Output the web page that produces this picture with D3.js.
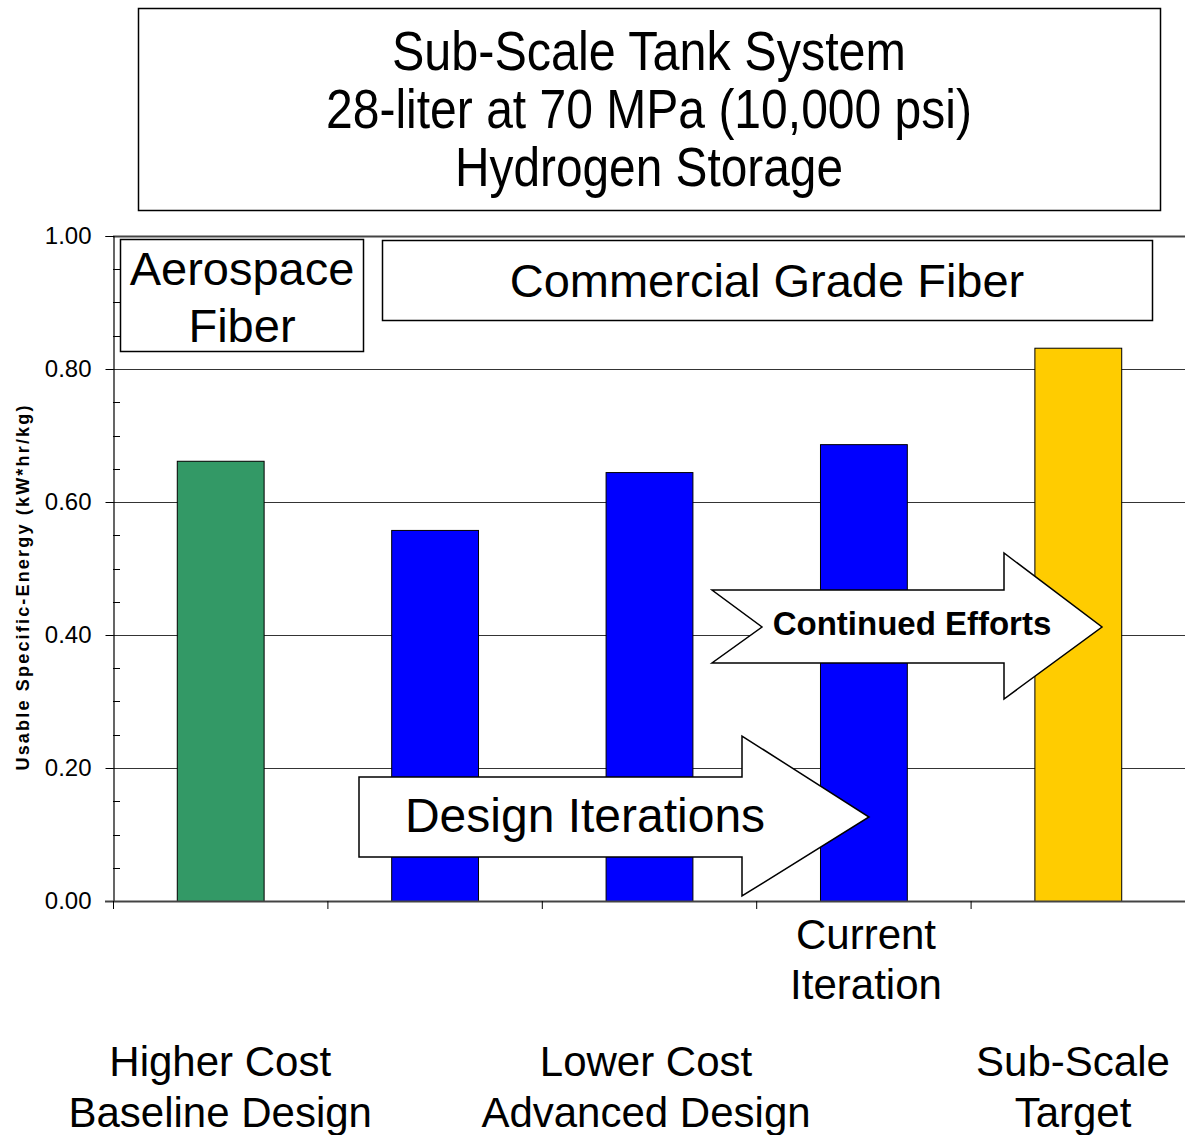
<!DOCTYPE html>
<html><head><meta charset="utf-8">
<script src="https://cdn.jsdelivr.net/npm/d3@7"></script>
<style>body{margin:0;background:#fff}svg{display:block}</style>
</head><body>
<script>
const categories = ["Higher Cost Baseline", "Commercial 1", "Commercial 2", "Current Iteration", "Sub-Scale Target"];
const values = [0.662, 0.558, 0.645, 0.687, 0.832];
const barColors = ["#339966", "#0000FF", "#0000FF", "#0000FF", "#FFCC00"];
const yTicks = [0, 0.2, 0.4, 0.6, 0.8, 1.0];
const titleLines = ["Sub-Scale Tank System", "28-liter at 70 MPa (10,000 psi)", "Hydrogen Storage"];
const yLabel = "Usable Specific-Energy (kW*hr/kg)";

const W = 1185, H = 1135;
const svg = d3.select("body").append("svg").attr("width", W).attr("height", H);
const font = "'Liberation Sans', Arial, sans-serif";

const x0 = 113, x1 = 1185, yTop = 236, yBot = 901;
const x = d3.scaleBand().domain(categories).range([x0, x1]).padding(0);
const y = d3.scaleLinear().domain([0, 1]).range([yBot, yTop]);
const bw = x.bandwidth() * 0.405;

// title box
svg.append("rect").attr("x", 138.5).attr("y", 8.5).attr("width", 1022).attr("height", 202)
  .attr("fill", "#fff").attr("stroke", "#000").attr("stroke-width", 1.5);
const titleWidths = [514, 646, 388];
titleLines.forEach((t, i) => {
  svg.append("text").attr("x", 649).attr("y", 70 + i * 58).attr("text-anchor", "middle")
    .attr("font-family", font).attr("font-size", 55).attr("fill", "#000")
    .attr("textLength", titleWidths[i]).attr("lengthAdjust", "spacingAndGlyphs").text(t);
});

// gridlines
svg.append("g").selectAll("line").data(yTicks.filter(d => d > 0)).join("line")
  .attr("x1", x0).attr("x2", x1).attr("y1", d => Math.round(y(d)) + 0.5).attr("y2", d => Math.round(y(d)) + 0.5)
  .attr("stroke", d => d === 1 ? "#444" : "#000").attr("stroke-width", d => d === 1 ? 2 : 0.8);

// y axis
const yAxis = d3.axisLeft(y).tickValues(yTicks).tickFormat(d3.format(".2f")).tickSize(8).tickPadding(14);
const ga = svg.append("g").attr("transform", `translate(${x0 + 0.5},0)`).call(yAxis);
ga.select(".domain").attr("stroke", "#000").attr("stroke-width", 1.2);
ga.selectAll(".tick line").attr("stroke", "#000");
ga.selectAll("text").attr("font-family", font).attr("font-size", 24).attr("fill", "#000");
// minor ticks
const minor = d3.range(0.05, 1.0, 0.05).filter(v => Math.abs(v * 5 - Math.round(v * 5)) > 1e-6);
svg.append("g").selectAll("line").data(minor).join("line")
  .attr("x1", x0).attr("x2", x0 + 7).attr("y1", d => Math.round(y(d)) + 0.5).attr("y2", d => Math.round(y(d)) + 0.5)
  .attr("stroke", "#000").attr("stroke-width", 1);

// y label
svg.append("text").attr("transform", `translate(29,588) rotate(-90)`).attr("text-anchor", "middle")
  .attr("font-family", font).attr("font-weight", "bold").attr("font-size", 18)
  .attr("textLength", 365).attr("lengthAdjust", "spacing")
  .text(yLabel);

// bars
svg.append("g").selectAll("rect").data(categories).join("rect")
  .attr("x", d => x(d) + (x.bandwidth() - bw) / 2 + 0.5).attr("width", bw)
  .attr("y", (d, i) => y(values[i]) + 0.5).attr("height", (d, i) => yBot - y(values[i]))
  .attr("fill", (d, i) => barColors[i]).attr("stroke", "#000").attr("stroke-width", 1);

// x axis
svg.append("line").attr("x1", x0 - 8).attr("x2", x1).attr("y1", yBot + 0.5).attr("y2", yBot + 0.5)
  .attr("stroke", "#444").attr("stroke-width", 2);
const bounds = categories.map(c => x(c)).concat([x1]);
svg.append("g").selectAll("line").data(bounds).join("line")
  .attr("x1", d => d + 0.5).attr("x2", d => d + 0.5).attr("y1", yBot).attr("y2", yBot + 8)
  .attr("stroke", "#000").attr("stroke-width", 1);

// fiber boxes
svg.append("rect").attr("x", 120.5).attr("y", 239.5).attr("width", 243).attr("height", 112)
  .attr("fill", "#fff").attr("stroke", "#000").attr("stroke-width", 1.5);
svg.append("text").attr("x", 242).attr("y", 285).attr("text-anchor", "middle")
  .attr("font-family", font).attr("font-size", 47).text("Aerospace");
svg.append("text").attr("x", 242).attr("y", 342).attr("text-anchor", "middle")
  .attr("font-family", font).attr("font-size", 47).text("Fiber");
svg.append("rect").attr("x", 382.5).attr("y", 240.5).attr("width", 770).attr("height", 80)
  .attr("fill", "#fff").attr("stroke", "#000").attr("stroke-width", 1.5);
svg.append("text").attr("x", 767).attr("y", 297).attr("text-anchor", "middle")
  .attr("font-family", font).attr("font-size", 47).text("Commercial Grade Fiber");

// arrows
const arrow1 = [[359,777],[742,777],[742,736],[869,817],[742,896],[742,857],[359,857]];
svg.append("polygon").attr("points", arrow1.map(p => p.join(",")).join(" "))
  .attr("fill", "#fff").attr("stroke", "#000").attr("stroke-width", 1.5);
svg.append("text").attr("x", 585).attr("y", 832).attr("text-anchor", "middle")
  .attr("font-family", font).attr("font-size", 48).text("Design Iterations");
const arrow2 = [[712,590],[1004,590],[1004,553],[1102,627],[1004,699],[1004,663],[712,663],[762,627]];
svg.append("polygon").attr("points", arrow2.map(p => p.join(",")).join(" "))
  .attr("fill", "#fff").attr("stroke", "#000").attr("stroke-width", 1.5);
svg.append("text").attr("x", 912).attr("y", 635).attr("text-anchor", "middle")
  .attr("font-family", font).attr("font-weight", "bold").attr("font-size", 33).text("Continued Efforts");

// bottom labels
const lbl = (cx, lines, y0, dy) => lines.forEach((t, i) =>
  svg.append("text").attr("x", cx).attr("y", y0 + i * dy).attr("text-anchor", "middle")
    .attr("font-family", font).attr("font-size", 42).text(t));
lbl(866, ["Current", "Iteration"], 949, 50);
lbl(x(categories[0]) + x.bandwidth() / 2, ["Higher Cost", "Baseline Design"], 1076, 51);
lbl(646, ["Lower Cost", "Advanced Design"], 1076, 51);
lbl(1073, ["Sub-Scale", "Target"], 1076, 51);
</script>
</body></html>
